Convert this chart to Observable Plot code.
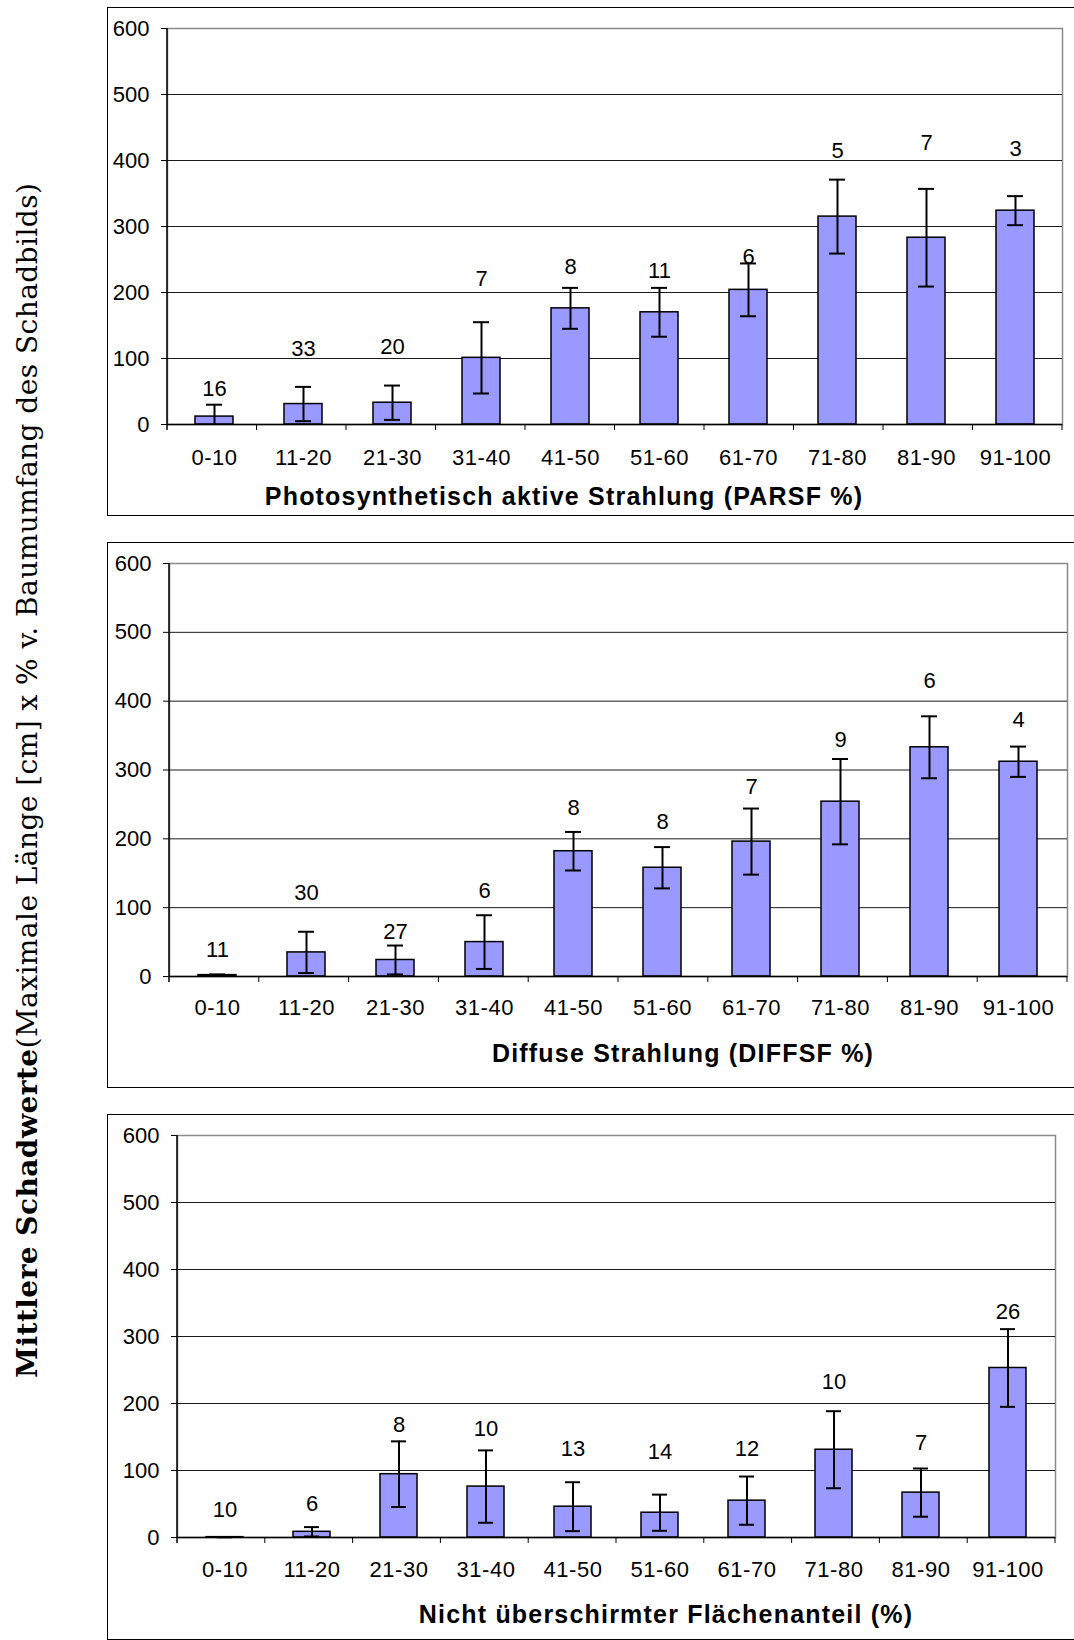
<!DOCTYPE html>
<html lang="de">
<head>
<meta charset="utf-8">
<title>Mittlere Schadwerte nach Lichtklassen</title>
<script src="https://cdn.jsdelivr.net/npm/d3@7"></script>
<script src="https://cdn.jsdelivr.net/npm/@observablehq/plot@0.6"></script>
<style>
  html, body { margin: 0; padding: 0; background: #fff; }
  #page { position: relative; width: 1074px; height: 1640px; overflow: hidden; background: #fff; }
  .frame { position: absolute; box-sizing: border-box; border: 1px solid #000; }
  .chart { position: absolute; }
  .chart svg { display: block; overflow: visible; }
  .chart svg g[aria-label="x-axis tick label"] text { letter-spacing: 0.5px; }
  .title {
    position: absolute; transform: translate(-50%, -50%); white-space: nowrap;
    font-family: "Liberation Sans", Arial, sans-serif; font-weight: bold; font-size: 25px;
    letter-spacing: 1.2px; color: #000;
  }
</style>
</head>
<body>
<div id="page"></div>
<script>
// Classes of the light variable (identical for all three panels)
const categories = ["0-10", "11-20", "21-30", "31-40", "41-50", "51-60", "61-70", "71-80", "81-90", "91-100"];

// Photosynthetisch aktive Strahlung (PARSF %)
const parsfMean  = [12, 31, 33, 101, 176, 170, 204, 315, 283, 324];
const parsfError = [18, 26, 26, 54, 31, 37, 40, 56, 74, 22];
const parsfN     = [16, 33, 20, 7, 8, 11, 6, 5, 7, 3];
const parsfNAt   = [54, 115, 118, 221, 238, 233, 254, 415, 426, 417];

// Diffuse Strahlung (DIFFSF %)
const diffsfMean  = [2, 35, 24, 50, 182, 158, 196, 254, 333, 312];
const diffsfError = [1, 30, 21, 39, 28, 30, 48, 62, 45, 22];
const diffsfN     = [11, 30, 27, 6, 8, 8, 7, 9, 6, 4];
const diffsfNAt   = [39, 122, 64, 125, 245, 225, 275, 343, 429, 373];

// Nicht überschirmter Flächenanteil (%)
const openMean  = [0.5, 8.5, 94.5, 76, 46, 37, 55, 131, 67, 253];
const openError = [0, 7, 49, 54, 36.5, 27, 36, 57.5, 36, 58];
const openN     = [10, 6, 8, 10, 13, 14, 12, 10, 7, 26];
const openNAt   = [41, 50, 168, 162, 132, 128, 132, 232, 141, 337];

const yDomain = [0, 600];
const gridValues = [100, 200, 300, 400, 500];

const page = document.getElementById("page");

// Left axis line and the category-boundary tick marks below the x axis
function axisLines(index, scales, values, dims) {
  const {width, height, marginLeft, marginRight, marginTop, marginBottom} = dims;
  const g = d3.create("svg:g").attr("stroke", "#000").attr("fill", "none");
  const x0 = marginLeft, x1 = width - marginRight, yb = height - marginBottom;
  const step = (x1 - x0) / categories.length;
  g.append("line").attr("x1", x0).attr("x2", x0).attr("y1", marginTop).attr("y2", yb + 6).attr("stroke-width", 1.5);
  for (let i = 1; i <= categories.length; i++) {
    const x = x0 + i * step;
    g.append("line").attr("x1", x).attr("x2", x).attr("y1", yb).attr("y2", yb + 6).attr("stroke-width", 1);
  }
  return g.node();
}

function panel({mean, err, n, nAt, title, frameTop, frameHeight, margins, tickPadding, titleX, titleY}) {
  const data = categories.map((c, i) => ({cat: c, mean: mean[i], err: err[i], n: n[i], at: nAt[i]}));
  const left = 107, width = 967;

  const frame = document.createElement("div");
  frame.className = "frame";
  Object.assign(frame.style, {left: left + "px", top: frameTop + "px", width: "1100px", height: frameHeight + "px"});
  page.appendChild(frame);

  const chart = Plot.plot({
    width, height: frameHeight,
    marginLeft: margins[0], marginRight: margins[1], marginTop: margins[2], marginBottom: margins[3],
    style: {fontFamily: "'Liberation Sans', Arial, sans-serif", fontSize: "22px", color: "#000", background: "transparent"},
    x: {domain: categories, paddingInner: 0.57, paddingOuter: 0.285, tickSize: 0, tickPadding, label: null},
    y: {domain: yDomain, ticks: 6, tickSize: 6, tickPadding: 12, label: null},
    marks: [
      Plot.frame({stroke: "#8a8a8a", strokeWidth: 1.5}),
      Plot.ruleY(gridValues, {stroke: "#1a1a1a", strokeWidth: 1}),
      Plot.barY(data, {x: "cat", y: "mean", fill: "#9999ff", stroke: "#000", strokeWidth: 1.5}),
      Plot.ruleX(data, {x: "cat", y1: d => Math.max(0, d.mean - d.err), y2: d => d.mean + d.err, stroke: "#000", strokeWidth: 2}),
      Plot.tickY(data, {x: "cat", y: d => d.mean + d.err, insetLeft: 11, insetRight: 11, stroke: "#000", strokeWidth: 2}),
      Plot.tickY(data.filter(d => d.mean - d.err >= 0), {x: "cat", y: d => d.mean - d.err, insetLeft: 11, insetRight: 11, stroke: "#000", strokeWidth: 2}),
      Plot.ruleY([0], {stroke: "#000", strokeWidth: 1.5}),
      axisLines,
      Plot.text(data, {x: "cat", y: "at", text: d => String(d.n), fontSize: 22, fill: "#000"})
    ]
  });

  const holder = document.createElement("div");
  holder.className = "chart";
  Object.assign(holder.style, {left: left + "px", top: frameTop + "px", width: width + "px"});
  holder.appendChild(chart);
  page.appendChild(holder);

  const t = document.createElement("div");
  t.className = "title";
  t.textContent = title;
  Object.assign(t.style, {left: titleX + "px", top: titleY + "px"});
  page.appendChild(t);
}

panel({
  mean: parsfMean, err: parsfError, n: parsfN, nAt: parsfNAt,
  title: "Photosynthetisch aktive Strahlung (PARSF %)",
  frameTop: 7, frameHeight: 509, margins: [60, 12, 21, 92], tickPadding: 25,
  titleX: 564, titleY: 496
});

panel({
  mean: diffsfMean, err: diffsfError, n: diffsfN, nAt: diffsfNAt,
  title: "Diffuse Strahlung (DIFFSF %)",
  frameTop: 542, frameHeight: 546, margins: [62, 7, 21, 112], tickPadding: 23,
  titleX: 683, titleY: 1053
});

panel({
  mean: openMean, err: openError, n: openN, nAt: openNAt,
  title: "Nicht überschirmter Flächenanteil (%)",
  frameTop: 1114, frameHeight: 526, margins: [70, 19, 21, 103], tickPadding: 24,
  titleX: 666, titleY: 1614
});

// Shared y-axis label, rotated along the left edge
const ylab = d3.create("svg")
  .attr("width", 107).attr("height", 1640)
  .style("position", "absolute").style("left", "0px").style("top", "0px");
const yt = ylab.append("text")
  .attr("transform", "translate(37,780.5) rotate(-90)")
  .attr("text-anchor", "middle")
  .attr("font-family", "'DejaVu Serif', 'Liberation Serif', serif")
  .attr("font-size", 28)
  .attr("fill", "#000")
  .attr("textLength", 1195)
  .attr("lengthAdjust", "spacing");
yt.append("tspan").attr("font-weight", "bold").text("Mittlere Schadwerte");
yt.append("tspan").text("(Maximale Länge [cm] x % v. Baumumfang des Schadbilds)");
page.appendChild(ylab.node());
</script>
</body>
</html>
